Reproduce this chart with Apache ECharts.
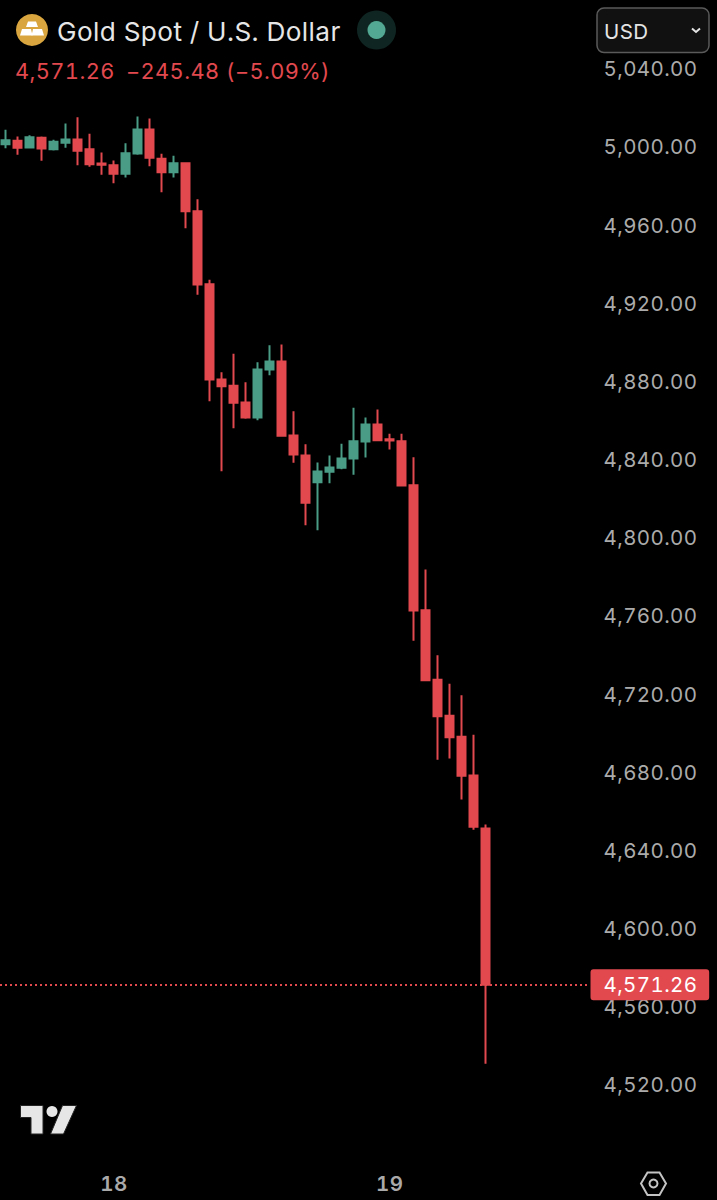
<!DOCTYPE html>
<html><head><meta charset="utf-8">
<style>html,body{margin:0;padding:0;background:#000}#c{width:717px;height:1200px}
#c text{font-feature-settings:"tnum" 1 !important;letter-spacing:.4px}</style>
<script src="https://cdn.jsdelivr.net/npm/echarts@6/dist/echarts.min.js"></script></head>
<body><div id="c"></div>
<script>
const categories=['','','','','','','','','','18','','','','','','','','','','','','','','','','','','','','','','','19','','','','','','','','','','','','','','','',''];
const opens=[5001.43,5003.17,4999.75,5004.71,4998.88,5002.15,5003.84,4998.88,4991.56,4990.69,4986.28,4996.67,5008.96,4993.96,4987.10,4991.71,4967.15,4929.78,4881.01,4877.78,4869.24,4861.56,4886.13,4890.22,4852.35,4842.11,4828.45,4833.77,4835.82,4840.58,4849.28,4857.98,4850.45,4849.43,4826.91,4762.94,4727.31,4708.89,4698.14,4678.34,4651.21];
const closes=[5003.48,4999.59,5005.02,4999.23,5002.66,5003.84,4998.06,4991.20,4990.89,4986.28,4996.83,5008.96,4994.47,4987.10,4991.71,4967.15,4929.63,4881.01,4877.58,4869.08,4861.56,4886.13,4890.22,4852.19,4842.62,4817.90,4833.92,4835.97,4840.58,4849.43,4857.98,4849.94,4849.79,4826.76,4762.78,4727.11,4708.68,4697.94,4678.18,4652.08,4571.26];
const lows=[4999.39,4996.01,4999.75,4992.94,4998.21,4999.59,4990.69,4989.87,4985.77,4981.48,4984.39,4996.01,4990.17,4976.87,4984.39,4958.44,4924.36,4869.90,4834.08,4856.08,4860.89,4860.18,4883.21,4851.84,4838.37,4806.44,4803.88,4827.93,4835.10,4832.23,4841.09,4849.94,4845.18,4826.40,4747.27,4726.80,4686.37,4687.04,4666.05,4650.54,4530.78];
const highs=[5008.80,5005.38,5006.04,5005.38,5003.69,5012.03,5015.25,5006.76,4997.19,4993.09,5001.95,5015.61,5014.59,4996.52,4995.50,4992.07,4973.29,4932.03,4884.74,4894.16,4879.63,4889.86,4898.56,4898.92,4864.78,4847.89,4838.53,4842.11,4848.10,4866.52,4861.56,4865.65,4853.22,4853.22,4841.24,4783.77,4739.90,4725.27,4719.43,4699.17,4653.26];
const lastClose=4571.26;
const priceTicks=['4,520.00','4,560.00','4,600.00','4,640.00','4,680.00','4,720.00','4,760.00','4,800.00','4,840.00','4,880.00','4,920.00','4,960.00','5,000.00','5,040.00'];
const titleText='Gold Spot / U.S. Dollar';
const quoteLast='4,571.26';
const quoteChange='\u2212245.48';
const quotePct='(\u22125.09%)';
const currencyText='USD';

const RED='#e2494f',GREEN='#4a9c86',FONT='Inter, "Noto Sans", sans-serif';
const fmt=v=>priceTicks[Math.round((v-4520)/40)]||'';
const chart=echarts.init(document.getElementById('c'),null,{renderer:'svg',width:717,height:1200});
chart.setOption({
  animation:false,backgroundColor:'#000',
  grid:{left:-0.5,width:588,top:68.84,height:1016},
  xAxis:{type:'category',data:categories,boundaryGap:true,
    axisLine:{show:false},axisTick:{show:false},splitLine:{show:false},
    axisLabel:{interval:0,hideOverlap:false,margin:88.5,color:'#a9a9a9',fontFamily:FONT,fontWeight:600,fontSize:20.5}},
  yAxis:{type:'value',position:'right',min:4520,max:5040,interval:40,scale:true,
    axisLine:{show:false},axisTick:{show:false},splitLine:{show:false},
    axisLabel:{formatter:fmt,align:'right',margin:110,color:'#ababab',fontFamily:FONT,fontSize:20.5,showMinLabel:true,showMaxLabel:true}},
  series:[{type:'candlestick',barWidth:8.5,z:5,
    data:opens.map((o,i)=>[o,closes[i],lows[i],highs[i]]),
    itemStyle:{color:GREEN,color0:RED,borderColor:GREEN,borderColor0:RED,borderWidth:2},
    markLine:{silent:true,symbol:'none',z:20,
      lineStyle:{type:[2,3],color:RED,width:1.8,opacity:1},
      label:{show:true,position:'end',distance:3,formatter:()=>'4,571.26',color:'#fff',backgroundColor:RED,fontFamily:FONT,fontSize:20.5,padding:[5,24,5,13],borderRadius:3},
      data:[{yAxis:lastClose}]}}],
  graphic:[
    {type:'circle',shape:{cx:32,cy:30,r:16},style:{fill:'#d8a53f'}},
    {type:'polygon',shape:{points:[[28,21.5],[36,21.5],[38,27],[26,27]]},style:{fill:'#fff'}},
    {type:'polygon',shape:{points:[[22,29],[31,29],[32.5,35.5],[20,35.5]]},style:{fill:'#fff'}},
    {type:'polygon',shape:{points:[[33,29],[42,29],[44,35.5],[31.5,35.5]]},style:{fill:'#fff'}},
    {type:'text',x:57,y:31.5,style:{text:titleText,fill:'#e6e6e6',font:'400 26.2px '+FONT,textVerticalAlign:'middle'}},
    {type:'circle',shape:{cx:376.5,cy:30,r:19.5},style:{fill:'#0f2521'}},
    {type:'circle',shape:{cx:376.5,cy:30,r:9},style:{fill:'#52a892'}},
    {type:'text',x:15,y:71,style:{text:quoteLast,fill:RED,font:'400 21.8px '+FONT,textVerticalAlign:'middle'}},
    {type:'text',x:126,y:71,style:{text:quoteChange,fill:RED,font:'400 21.8px '+FONT,textVerticalAlign:'middle'}},
    {type:'text',x:226,y:71,style:{text:quotePct,fill:RED,font:'400 21.8px '+FONT,textVerticalAlign:'middle'}},
    {type:'rect',shape:{x:597,y:8,width:112,height:44.5,r:7},style:{fill:'#111',stroke:'#5a5a5a',lineWidth:1.5}},
    {type:'text',x:604,y:31,style:{text:currencyText,fill:'#e4e4e4',font:'400 20.5px '+FONT,textVerticalAlign:'middle'}},
    {type:'polyline',shape:{points:[[692,28.5],[696,32],[700,28.5]]},style:{stroke:'#e4e4e4',lineWidth:2,fill:null}},
    {type:'polygon',shape:{points:[[20.5,1105.5],[43,1105.5],[43,1134],[31,1134],[31,1117.5],[20.5,1117.5]]},style:{fill:'#e6e6e6',stroke:'#242424',lineWidth:1}},
    {type:'circle',shape:{cx:52,cy:1111.5,r:5.5},style:{fill:'#e6e6e6'}},
    {type:'polygon',shape:{points:[[62.5,1105.5],[76.5,1105.5],[63.5,1134],[50.5,1134]]},style:{fill:'#e6e6e6',stroke:'#242424',lineWidth:1}},
    {type:'polygon',shape:{points:[[641,1183.5],[647.5,1172.5],[659.5,1172.5],[666,1183.5],[659.5,1195],[647.5,1195]]},style:{fill:'none',stroke:'#c4c4c4',lineWidth:2}},
    {type:'circle',shape:{cx:653.5,cy:1183.5,r:4},style:{fill:'none',stroke:'#c4c4c4',lineWidth:2}}
  ]
});
</script></body></html>
